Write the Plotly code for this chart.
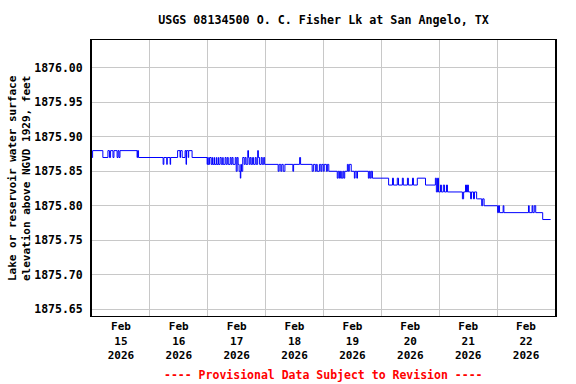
import datetime as dt
import plotly.graph_objects as go

# hours since 2026-02-15 00:00 at which the gage reading changes, and the new reading (ft)
change_hours = [
    0.0, 0.25, 4.5, 6.6, 7.25, 7.7, 8.7, 9.1, 10.4, 10.8, 11.2, 11.6,
    18.7, 18.9, 19.3, 29.5, 29.8, 31.0, 31.2, 32.4, 32.6, 35.5, 36.5, 36.7,
    37.4, 38.6, 39.0, 39.2, 39.9, 40.1, 41.5, 47.75, 48.0,
    48.2, 48.75, 49.4, 49.8, 50.0, 50.6, 50.8, 51.5, 51.7, 52.3, 52.5, 53.1,
    53.6, 54.2, 54.4, 55.2, 55.6, 56.1, 56.5, 57.3, 57.7, 58.1, 58.5, 59.4,
    59.8, 60.2, 60.6, 61.0, 61.5, 61.7, 62.0, 62.5, 63.1, 63.5, 63.9, 64.6,
    64.9, 65.2, 65.6, 66.0, 66.6, 67.0, 67.7, 68.1, 68.7, 69.0, 69.5, 70.2,
    70.6, 71.2, 71.6, 77.2, 77.6, 78.3, 78.7, 79.3, 80.0, 83.3, 83.6, 86.1,
    86.5, 91.3, 91.8, 92.6, 93.0, 93.4, 94.3, 94.9, 95.3, 95.9, 96.3, 97.2,
    97.6, 98.2, 101.7, 102.1, 102.6, 103.0, 103.4, 104.0, 104.4, 104.8, 105.9,
    106.3, 106.7, 107.5, 108.8, 109.1, 109.8, 110.1, 114.6, 115.0, 115.4,
    115.8, 116.3, 123.0, 124.6, 125.0, 126.6, 127.1, 128.7, 129.1, 130.8,
    131.2, 132.9, 133.3, 134.9, 138.3, 142.4, 142.8, 143.3, 143.7, 144.5,
    144.9, 145.7, 146.2, 147.0, 147.4, 153.6, 154.1, 154.9, 155.3, 155.7,
    156.1, 157.0, 157.4, 158.2, 158.6, 159.5, 159.9, 161.6, 162.0, 162.6,
    168.2, 168.6, 169.0, 170.5, 170.8, 181.0, 181.3, 182.5, 182.8, 183.4,
    184.0, 186.9, 190.2,
]
elevation_ft = [
    1875.87, 1875.88, 1875.87, 1875.88, 1875.87, 1875.88, 1875.87, 1875.88, 1875.87, 1875.88, 1875.87, 1875.88,
    1875.87, 1875.88, 1875.87, 1875.86, 1875.87, 1875.86, 1875.87, 1875.86, 1875.87, 1875.88, 1875.87, 1875.88,
    1875.87, 1875.88, 1875.86, 1875.88, 1875.87, 1875.88, 1875.87, 1875.86, 1875.87,
    1875.86, 1875.87, 1875.86, 1875.87, 1875.86, 1875.87, 1875.86, 1875.87, 1875.86, 1875.87, 1875.86, 1875.87,
    1875.86, 1875.87, 1875.86, 1875.87, 1875.86, 1875.87, 1875.86, 1875.87, 1875.86, 1875.87, 1875.86, 1875.87,
    1875.85, 1875.87, 1875.86, 1875.85, 1875.84, 1875.86, 1875.85, 1875.87, 1875.86, 1875.87, 1875.86, 1875.88,
    1875.87, 1875.86, 1875.87, 1875.86, 1875.87, 1875.86, 1875.87, 1875.86, 1875.88, 1875.87, 1875.86, 1875.87,
    1875.86, 1875.87, 1875.86, 1875.85, 1875.86, 1875.85, 1875.86, 1875.85, 1875.86, 1875.85, 1875.86, 1875.87,
    1875.86, 1875.85, 1875.86, 1875.85, 1875.86, 1875.85, 1875.86, 1875.85, 1875.86, 1875.85, 1875.86, 1875.85,
    1875.86, 1875.85, 1875.84, 1875.85, 1875.84, 1875.85, 1875.84, 1875.85, 1875.84, 1875.85, 1875.86,
    1875.85, 1875.86, 1875.85, 1875.84, 1875.85, 1875.84, 1875.85, 1875.84, 1875.85, 1875.84,
    1875.85, 1875.84, 1875.83, 1875.84, 1875.83, 1875.84, 1875.83, 1875.84, 1875.83, 1875.84,
    1875.83, 1875.84, 1875.83, 1875.84, 1875.83, 1875.84, 1875.82, 1875.84, 1875.82, 1875.83,
    1875.82, 1875.83, 1875.82, 1875.83, 1875.82, 1875.81, 1875.82, 1875.83, 1875.82, 1875.83,
    1875.82, 1875.81, 1875.82, 1875.81, 1875.82, 1875.81, 1875.81, 1875.80, 1875.81, 1875.80,
    1875.79, 1875.80, 1875.79, 1875.80, 1875.79, 1875.80, 1875.79, 1875.80, 1875.79, 1875.80,
    1875.79, 1875.78, 1875.78,
]

y_ticks = [1875.65, 1875.70, 1875.75, 1875.80, 1875.85, 1875.90, 1875.95, 1876.00]
title_text = "USGS 08134500 O. C. Fisher Lk at San Angelo, TX"
y_title = "Lake or reservoir water surface<br>elevation above NGVD 1929, feet"
footer_text = "---- Provisional Data Subject to Revision ----"

start = dt.datetime(2026, 2, 15)
times = [start + dt.timedelta(hours=h) for h in change_hours]

FONT = "DejaVu Sans Mono"
W, H = 576, 384

fig = go.Figure()
fig.add_trace(go.Scatter(
    x=times, y=elevation_ft, mode="lines",
    line=dict(color="#0000ff", width=1, shape="hv"),
    showlegend=False,
))

fig.update_layout(
    width=W, height=H,
    margin=dict(l=92, r=21, t=40, b=68),
    paper_bgcolor="white", plot_bgcolor="white",
    font=dict(family=FONT, size=11.5, color="black", weight="bold"),
    title=dict(text=title_text, x=0.5, xref="paper", xanchor="center",
               y=1 - 20 / H, yanchor="middle",
               font=dict(family=FONT, size=11.7, color="black", weight="bold")),
    xaxis=dict(
        type="date", automargin=False,
        range=[start, start + dt.timedelta(days=8)],
        tick0=start, dtick=86400000, ticklabelmode="period",
        tickformat="%b<br>%d<br>%Y",
        showgrid=True, gridcolor="#c8c8c8", gridwidth=1,
        showline=True, linecolor="black", linewidth=1, mirror=True,
        ticks="", tickfont=dict(family=FONT, size=11, weight="bold"),
        zeroline=False,
    ),
    yaxis=dict(
        automargin=False,
        range=[1875.640, 1876.0405],
        tickvals=y_ticks, tickformat=".2f",
        showgrid=True, gridcolor="#c8c8c8", gridwidth=1,
        showline=True, linecolor="black", linewidth=2, mirror=True,
        ticks="", ticklabelstandoff=5,
        tickfont=dict(family=FONT, size=11.5, weight="bold"),
        zeroline=False,
    ),
    annotations=[
        dict(text=y_title, xref="paper", yref="paper", x=0, y=0.5,
             xshift=-73, xanchor="center", yanchor="middle", textangle=-90,
             showarrow=False,
             font=dict(family=FONT, size=11, color="black", weight="bold")),
        dict(text=footer_text, xref="paper", yref="paper", x=0.5, y=0,
             yshift=-59, xanchor="center", yanchor="middle", showarrow=False,
             font=dict(family=FONT, size=11.5, color="#ff0000", weight="bold")),
    ],
)

fig.write_html("out.html", config={"displayModeBar": False},
               post_script="document.body.style.margin='0';")
